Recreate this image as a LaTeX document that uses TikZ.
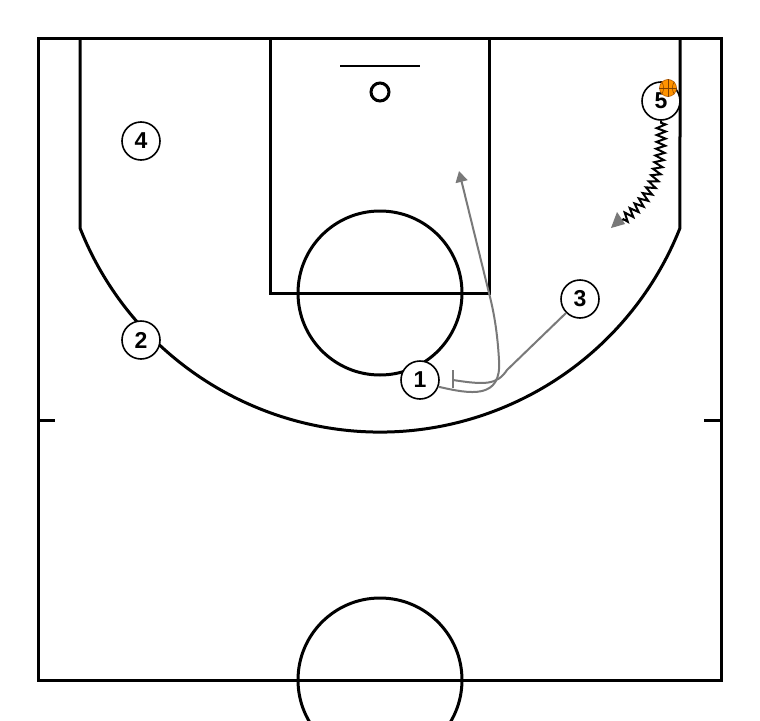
\documentclass[tikz,border=0pt]{standalone}
\usepackage{fontspec}
\setmainfont{Liberation Sans}
\usetikzlibrary{arrows.meta,decorations.pathmorphing}
\begin{document}
\begin{tikzpicture}[x=1pt,y=-1pt,
  court/.style={line width=3pt,black},
  player/.style={circle,draw,line width=1.6pt,fill=white,minimum size=38pt,inner sep=0pt,
    font=\fontsize{23}{23}\selectfont\bfseries},
  move/.style={draw=gray!95!black,line width=2pt},
  gtip/.style={-{Triangle[length=11pt,width=12pt,fill=gray!95!black,color=gray!95!black]}}]
\useasboundingbox (0,0) rectangle (760,720);
\clip (0,0) rectangle (760,720);
\fill[white] (0,0) rectangle (760,720);
% court
\draw[court] (38,38) rectangle (721,680);
\draw[court] (270,38) -- (270,293) -- (489,293) -- (489,38);
\draw[court] (380,293) circle[radius=82];
\draw[court] (380,680) circle[radius=82];
\draw[court] (80,38) -- (80,228) arc[start angle=158.43,end angle=21.57,radius=322.6] -- (680,38);
\draw[court] (38,420) -- (55,420);
\draw[court] (704,420) -- (721,420);
\draw[line width=2.5pt] (340,66) -- (420,66);
\draw[line width=3pt] (380,92) circle[radius=9];
% players
\node[player] (p4) at (141,141) {4};
\node[player] (p2) at (141,340) {2};
\node[player] (p1) at (420,380) {1};
\node[player] (p3) at (580,299) {3};
\node[player] (p5) at (661,101) {5};
% ball
\node[circle,fill=orange!85!yellow,draw=orange!70!black,line width=0.6pt,minimum size=17pt,inner sep=0pt] (ball) at (668,88) {};
\draw[orange!50!black,line width=0.5pt] (ball.north) -- (ball.south) (ball.west) -- (ball.east);
\draw[orange!50!black,line width=0.5pt] (ball.north west) to[bend left=30] (ball.south west);
\draw[orange!50!black,line width=0.5pt] (ball.north east) to[bend right=30] (ball.south east);
% dribble
\coordinate (d5) at (614,226);
\draw[black,line width=2pt,decorate,decoration={zigzag,amplitude=4.5pt,segment length=7pt,post length=9pt,pre length=2pt}]
  (p5.south) .. controls (663,178) and (650,202) .. (d5);
\fill[gray!95!black] (611,228) -- (625,224) -- (617,212) -- cycle;
% cut of 1
\coordinate (c1) at (459,171);
\draw[move,gtip] (p1.-20) .. controls (470,394) and (502,400) .. (499,360)
   .. controls (497,325) and (492,305) .. (489,293) -- (c1);
% screen of 3
\coordinate (s3) at (453,380);
\draw[move] (p3.225) -- (507,370) .. controls (497,385) and (485,385) .. (s3);
\draw[move] (453,370) -- (453,388);
\end{tikzpicture}
\end{document}
